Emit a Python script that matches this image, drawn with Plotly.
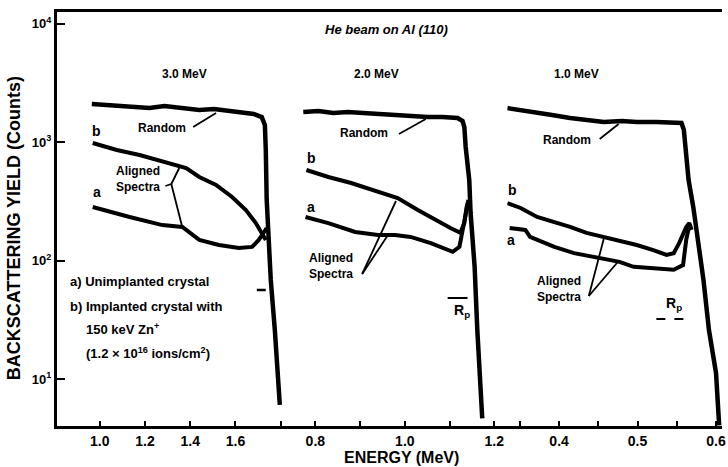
import plotly.graph_objects as go

# ---------------- data (energy in MeV, yield in counts) ----------------
# Panel 1: 3.0 MeV
e1_random = [0.965, 1.044, 1.132, 1.220, 1.286, 1.352, 1.440, 1.505, 1.571, 1.637, 1.681,
             1.716, 1.730, 1.734, 1.738, 1.747, 1.756, 1.774, 1.787, 1.796]
y1_random = [2099, 2059, 1981, 1941, 2018, 1941, 1869, 1905, 1834, 1799, 1730,
             1630, 1396, 859, 326, 150, 69, 26, 12, 6.1]
e1_b = [0.969, 1.075, 1.176, 1.295, 1.382, 1.440, 1.514, 1.585, 1.646, 1.690, 1.716, 1.734]
y1_b = [985, 859, 780, 668, 606, 509, 436, 345, 268, 208, 175, 150]
e1_a = [0.969, 1.044, 1.132, 1.277, 1.365, 1.440, 1.527, 1.615, 1.673, 1.703, 1.725, 1.738]
y1_a = [284, 258, 234, 200, 193, 150, 136, 128, 131, 150, 175, 189]

# Panel 2: 2.0 MeV
e2_random = [0.773, 0.807, 0.840, 0.873, 0.907, 0.940, 0.978, 1.018, 1.051, 1.084, 1.118,
             1.129, 1.133, 1.136, 1.140, 1.144, 1.147, 1.156, 1.162, 1.169, 1.173]
y2_random = [1799, 1834, 1763, 1799, 1763, 1730, 1696, 1663, 1630, 1630, 1600,
             1509, 1343, 911, 618, 480, 253, 89, 26, 9.9, 4.7]
e2_b = [0.780, 0.829, 0.880, 0.940, 0.984, 1.029, 1.067, 1.102, 1.124, 1.133, 1.138, 1.142]
y2_b = [583, 509, 453, 380, 338, 268, 221, 189, 172, 208, 284, 326]
e2_a = [0.778, 0.829, 0.889, 0.940, 0.978, 1.013, 1.058, 1.089, 1.107, 1.122, 1.133, 1.140]
y2_a = [234, 208, 175, 165, 165, 159, 141, 128, 119, 131, 221, 295]

# Panel 3: 1.0 MeV
e3_random = [0.334, 0.353, 0.372, 0.391, 0.414, 0.435, 0.457, 0.480, 0.499, 0.524, 0.546,
             0.556, 0.559, 0.561, 0.565, 0.571, 0.575, 0.584, 0.591, 0.600, 0.604]
y3_random = [1941, 1869, 1763, 1696, 1600, 1539, 1480, 1509, 1480, 1480, 1480,
             1452, 1267, 911, 480, 284, 182, 69, 26, 11.3, 4.1]
e3_b = [0.334, 0.351, 0.372, 0.394, 0.414, 0.435, 0.457, 0.477, 0.499, 0.520, 0.537,
        0.546, 0.553, 0.562, 0.566, 0.569]
y3_b = [307, 279, 234, 212, 193, 172, 159, 150, 136, 123, 112, 116, 141, 193, 208, 182]
e3_a = [0.337, 0.357, 0.363, 0.394, 0.419, 0.448, 0.477, 0.495, 0.520, 0.546, 0.558, 0.562, 0.566]
y3_a = [189, 182, 159, 131, 116, 106, 98, 89, 87, 84, 92, 150, 200]

panel_titles = ["3.0 MeV", "2.0 MeV", "1.0 MeV"]
x1_ticks = [1.0, 1.2, 1.4, 1.6]
x2_ticks = [0.8, 1.0, 1.2]
x3_ticks = [0.4, 0.5, 0.6]
y_ticks = [10, 100, 1000, 10000]
y_ticktext = ["10<sup>1</sup>", "10<sup>2</sup>", "10<sup>3</sup>", "10<sup>4</sup>"]

# ---------------- layout geometry ----------------
W, H = 728, 467
L, R, T, B = 57, 726, 12, 426
FONT = "Liberation Sans Narrow, Liberation Sans, Arial, sans-serif"


def P(px, py):
    return (px - L) / (R - L), (B - py) / (B - T)


fig = go.Figure()
panels = [
    ("x", e1_random, y1_random, e1_b, y1_b, e1_a, y1_a),
    ("x2", e2_random, y2_random, e2_b, y2_b, e2_a, y2_a),
    ("x3", e3_random, y3_random, e3_b, y3_b, e3_a, y3_a),
]
for xa, er, yr, eb, yb, ea, ya in panels:
    fig.add_trace(go.Scatter(x=er, y=yr, xaxis=xa, yaxis="y", mode="lines",
                             line=dict(color="black", width=4.5), hoverinfo="skip"))
    fig.add_trace(go.Scatter(x=eb, y=yb, xaxis=xa, yaxis="y", mode="lines",
                             line=dict(color="black", width=4), hoverinfo="skip"))
    fig.add_trace(go.Scatter(x=ea, y=ya, xaxis=xa, yaxis="y", mode="lines",
                             line=dict(color="black", width=4), hoverinfo="skip"))

axis_common = dict(showgrid=False, zeroline=False, showline=True, linecolor="black",
                   linewidth=3, mirror=True, ticks="inside", ticklen=5, tickwidth=2,
                   tickcolor="black", ticklabeloverflow="allow",
                   tickfont=dict(family=FONT, size=14, color="black", weight="bold"),
                   anchor="y")

d1 = (298 - L) / (R - L)
d2 = (510 - L) / (R - L)
fig.update_layout(
    width=W, height=H,
    margin=dict(l=L, r=W - R, t=T, b=H - B),
    paper_bgcolor="white", plot_bgcolor="white",
    showlegend=False,
    xaxis=dict(domain=[0, d1], range=[0.811, 1.870], tickvals=x1_ticks,
               ticktext=["1.0", "1.2", "1.4", "1.6"],
               minor=dict(dtick=0.2, tick0=0.0, ticks="inside", ticklen=5, tickwidth=2, tickcolor="black"),
               **axis_common),
    xaxis2=dict(domain=[d1, d2], range=[0.758, 1.229], tickvals=x2_ticks,
                ticktext=["0.8", "1.0", "1.2"],
                minor=dict(dtick=0.1, tick0=0.0, ticks="inside", ticklen=5, tickwidth=2, tickcolor="black"),
                **axis_common),
    xaxis3=dict(domain=[d2, 1], range=[0.334, 0.6076], tickvals=x3_ticks,
                ticktext=["0.4", "0.5", "0.6"],
                minor=dict(dtick=0.05, tick0=0.0, ticks="inside", ticklen=5, tickwidth=2, tickcolor="black"),
                **axis_common),
    yaxis=dict(type="log", range=[0.607, 4.098], tickvals=y_ticks, ticktext=y_ticktext,
               showgrid=False, zeroline=False, showline=True, linecolor="black",
               linewidth=3, ticks="inside", ticklen=8, tickwidth=2, tickcolor="black",
               tickfont=dict(family=FONT, size=13, color="black", weight="bold"),
               anchor="x"),
)

annotations = []


def txt(text, px, py, size=11, xanchor="center", align="center", angle=0):
    x, y = P(px, py)
    annotations.append(dict(text=text, x=x, y=y, xref="paper", yref="paper",
                            xanchor=xanchor, yanchor="middle", align=align,
                            showarrow=False, textangle=angle,
                            font=dict(family=FONT, size=size, color="black", weight="bold")))


txt("<i>He beam on Al (110)</i>", 388, 30, size=13)
for title, px in zip(panel_titles, [185, 378, 580]):
    txt(title, px, 74, size=12)
for px, py in [(163, 128), (366, 133), (570, 140)]:
    txt("Random", px, py, size=12)
for px, py in [(138, 179), (333, 266), (562, 289)]:
    txt("Aligned<br>Spectra", px, py, size=12, align="left")
for label, px, py in [("b", 97, 131), ("a", 97, 192), ("b", 313, 158), ("a", 313, 207),
                      ("b", 515, 190), ("a", 514, 240)]:
    txt(label, px, py, size=14)
txt("a) Unimplanted crystal", 68, 281, size=13, xanchor="left", align="left")
txt("b) Implanted crystal with", 68, 306, size=13, xanchor="left", align="left")
txt("150 keV Zn<sup>+</sup>", 84, 329, size=13, xanchor="left", align="left")
txt("(1.2 × 10<sup>16</sup> ions/cm<sup>2</sup>)", 84, 353, size=13, xanchor="left", align="left")
txt("R<sub>p</sub>", 464, 311, size=14)
txt("R<sub>p</sub>", 678, 304, size=14)
txt("BACKSCATTERING YIELD (Counts)", 14, 228, size=18, angle=-90)
txt("ENERGY (MeV)", 404, 458, size=16)
fig.update_layout(annotations=annotations)

shapes = []


def seg(p0, p1, width=1.8, dash="solid"):
    x0, y0 = P(*p0)
    x1, y1 = P(*p1)
    shapes.append(dict(type="line", xref="paper", yref="paper", x0=x0, y0=y0, x1=x1, y1=y1,
                       line=dict(color="black", width=width, dash=dash)))


# leader lines for "Random"
seg((194, 127), (217, 113))
seg((401, 134), (428, 119))
seg((603, 139), (622, 124))
# leader lines for "Aligned Spectra"
seg((166, 186), (172, 184))
seg((172, 184), (180, 168))
seg((172, 184), (183, 227))
seg((364, 274), (398, 201))
seg((364, 274), (390, 235))
seg((592, 296), (607, 239))
seg((592, 296), (622, 261))
# Rp markers
seg((258, 290), (267, 290), width=2.5)
seg((450, 298), (470, 298), width=2)
seg((660, 319), (693, 319), width=2, dash="dash")
fig.update_layout(shapes=shapes)

fig.write_html("out.html")
